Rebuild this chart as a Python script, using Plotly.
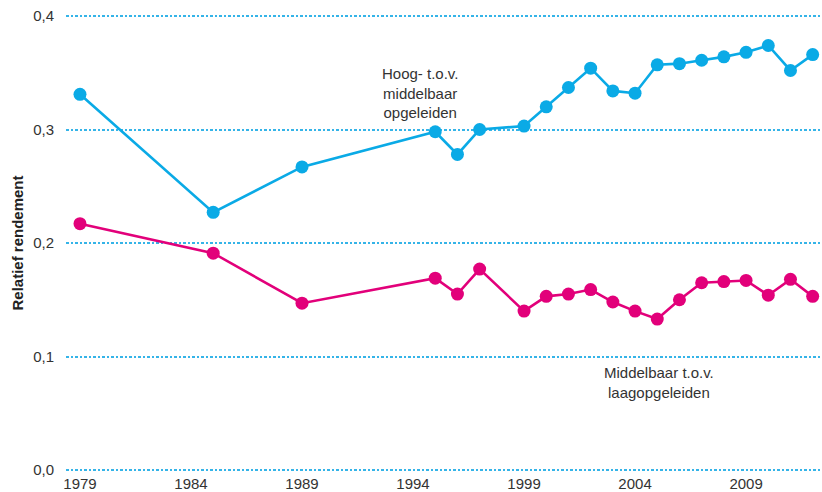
import plotly.graph_objects as go

years = [1979, 1985, 1989, 1995, 1996, 1997, 1999, 2000, 2001, 2002, 2003, 2004,
         2005, 2006, 2007, 2008, 2009, 2010, 2011, 2012]
hoog = [0.331, 0.227, 0.267, 0.298, 0.278, 0.300, 0.303, 0.320, 0.337, 0.354, 0.334, 0.332,
        0.357, 0.358, 0.361, 0.364, 0.368, 0.374, 0.352, 0.366]
middel = [0.217, 0.191, 0.147, 0.169, 0.155, 0.177, 0.140, 0.153, 0.155, 0.159, 0.148, 0.140,
          0.133, 0.150, 0.165, 0.166, 0.167, 0.154, 0.168, 0.153]
x_ticks = [1979, 1984, 1989, 1994, 1999, 2004, 2009]
y_ticks = [0.0, 0.1, 0.2, 0.3, 0.4]

BLUE = "#0aaae6"
PINK = "#e2007a"
TXT = "#333333"
FONT = "Liberation Sans, Arial, sans-serif"

fig = go.Figure()
fig.add_trace(go.Scatter(x=years, y=hoog, mode="lines+markers",
                         line=dict(color=BLUE, width=2.6),
                         marker=dict(color=BLUE, size=13),
                         name="Hoog- t.o.v. middelbaar opgeleiden"))
fig.add_trace(go.Scatter(x=years, y=middel, mode="lines+markers",
                         line=dict(color=PINK, width=2.6),
                         marker=dict(color=PINK, size=13),
                         name="Middelbaar t.o.v. laagopgeleiden"))

fig.add_annotation(x=1994.3, y=0.3326, text="Hoog- t.o.v.<br>middelbaar<br>opgeleiden",
                   showarrow=False, font=dict(size=15, color=TXT, family=FONT),
                   align="center")
fig.add_annotation(x=2005.1, y=0.0775, text="Middelbaar t.o.v.<br>laagopgeleiden",
                   showarrow=False, font=dict(size=15, color=TXT, family=FONT),
                   align="center")

fig.update_layout(
    width=822, height=492,
    margin=dict(l=66, r=0, t=13, b=19),
    paper_bgcolor="white", plot_bgcolor="white",
    separators=",.",
    showlegend=False,
    font=dict(family=FONT, color=TXT),
)
fig.update_xaxes(range=[1978.37, 2012.42], tickvals=x_ticks, showgrid=False,
                 zeroline=False, showline=False, ticks="",
                 tickfont=dict(family=FONT, size=15, color=TXT))
fig.update_yaxes(range=[-0.00264, 0.40264], tickvals=y_ticks, tickformat=".1f",
                 showgrid=True, gridcolor="#35b4e8", griddash="2.5px,2px", gridwidth=1.7,
                 zeroline=False, showline=False, ticks="",
                 ticklabelstandoff=11,
                 tickfont=dict(family=FONT, size=15, color=TXT),
                 title=dict(text="<b>Relatief rendement</b>", standoff=5,
                            font=dict(family=FONT, size=15, color="#222222")))

fig.write_html("out.html", config={"displayModeBar": False},
               post_script="document.body.style.margin='0px';document.body.style.overflow='hidden';")
